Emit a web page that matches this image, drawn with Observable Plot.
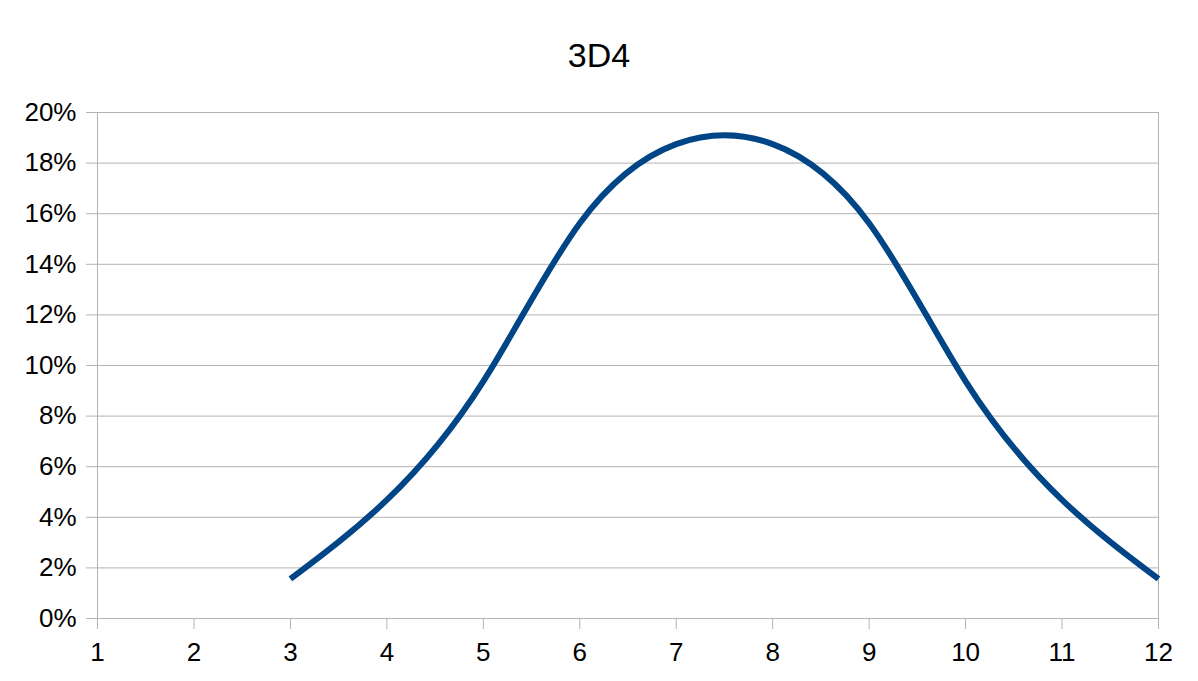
<!DOCTYPE html>
<html>
<head>
<meta charset="utf-8">
<script src="https://cdn.jsdelivr.net/npm/d3@7"></script>
<script src="https://cdn.jsdelivr.net/npm/@observablehq/plot@0.6"></script>
<style>
  body { margin: 0; background: #fff; font-family: "Liberation Sans", Arial, sans-serif; }
  #title { box-sizing: border-box; height: 90px; padding-top: 38px; line-height: 34px; text-align: center; font-size: 34px; color: #000; }
  #chart { display: block; }
</style>
</head>
<body>
<div id="title">3D4</div>
<div id="chart"></div>
<script>
const sums = [3, 4, 5, 6, 7, 8, 9, 10, 11, 12];
const probabilities = [0.015625, 0.046875, 0.09375, 0.15625, 0.1875, 0.1875, 0.15625, 0.09375, 0.046875, 0.015625];
const xTicks = [1, 2, 3, 4, 5, 6, 7, 8, 9, 10, 11, 12];
const yTicks = [0, 0.02, 0.04, 0.06, 0.08, 0.10, 0.12, 0.14, 0.16, 0.18, 0.20];

const data = sums.map((s, i) => ({ x: s, y: probabilities[i] }));

const chart = Plot.plot({
  width: 1198,
  height: 591,
  marginTop: 22,
  marginBottom: 63,
  marginLeft: 97,
  marginRight: 40,
  style: { fontFamily: "Liberation Sans, Arial, sans-serif", fontSize: "26px", color: "#000", background: "#fff" },
  x: { domain: [1, 12], label: null },
  y: { domain: [0, 0.2], label: null },
  marks: [
    Plot.ruleY(yTicks, { stroke: "#b3b3b3", strokeWidth: 1 }),
    Plot.ruleX([1, 12], { stroke: "#b3b3b3", strokeWidth: 1 }),
    Plot.axisX({ ticks: xTicks, tickSize: 11, tickPadding: 13, stroke: "#b3b3b3", tickFormat: d3.format("d"), fill: "#000", label: null }),
    Plot.axisY({ ticks: yTicks, tickSize: 11, tickPadding: 10, stroke: "#b3b3b3", tickFormat: d3.format(".0%"), fill: "#000", label: null }),
    Plot.line(data, { x: "x", y: "y", curve: "natural", stroke: "#004586", strokeWidth: 6, strokeLinejoin: "round", strokeLinecap: "butt" })
  ]
});
document.getElementById("chart").appendChild(chart);
</script>
</body>
</html>
